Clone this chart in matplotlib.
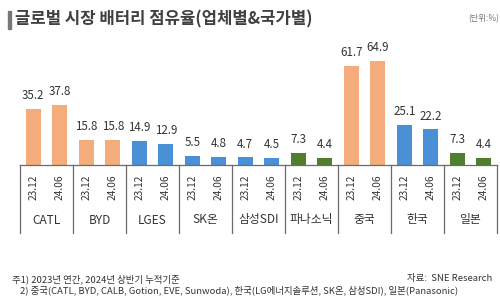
import matplotlib
matplotlib.use("Agg")
import matplotlib.pyplot as plt
from matplotlib.lines import Line2D
from matplotlib.patches import Rectangle
import matplotlib.transforms as mtransforms

plt.rcParams["font.family"] = ["Noto Sans CJK KR", "DejaVu Sans"]

# Data
groups = ["CATL", "BYD", "LGES", "SK온", "삼성SDI", "파나소닉", "중국", "한국", "일본"]
periods = ["23.12", "24.06"]
share_2312 = [35.2, 15.8, 14.9, 5.5, 4.7, 7.3, 61.7, 25.1, 7.3]
share_2406 = [37.8, 15.8, 12.9, 4.8, 4.5, 4.4, 64.9, 22.2, 4.4]
group_kind = ["cn", "cn", "kr", "kr", "kr", "jp", "cn", "kr", "jp"]

colors = {"cn": "#F4AC7C", "kr": "#4A90D6", "jp": "#4F7F2C"}

W, H = 500, 297
fig = plt.figure(figsize=(W / 100, H / 100), dpi=100)

# axes in pixel coordinates
x0, x1 = 20, 497
y_base, y_top = 165, 40
ax = fig.add_axes([x0 / W, 1 - y_base / H, (x1 - x0) / W, (y_base - y_top) / H])
ax.set_xlim(-0.5, 2 * len(groups) - 0.5)
ax.set_ylim(0, (y_base - y_top) / 1.6)
ax.axis("off")

xs, vals, cols, labels = [], [], [], []
for i, g in enumerate(groups):
    for j, v in enumerate([share_2312[i], share_2406[i]]):
        xs.append(2 * i + j)
        vals.append(v)
        cols.append(colors[group_kind[i]])
        labels.append(periods[j])

bars = ax.bar(xs, vals, width=0.57, color=cols, zorder=2)
for x, v in zip(xs, vals):
    ax.annotate(f"{v:.1f}", (x, v), xytext=(0, 5), textcoords="offset points",
                ha="center", va="bottom", fontsize=8.3, color="#333333")

# blended transform: data x, figure pixel y (from top)
trans = mtransforms.blended_transform_factory(ax.transData, fig.transFigure)

def fy(py):
    return 1 - py / H

line_col = "#6b6b6b"
fig.add_artist(Line2D([x0 / W, x1 / W], [fy(y_base), fy(y_base)],
                      transform=fig.transFigure, color=line_col, lw=0.9))
for k in range(len(groups) + 1):
    xb = 2 * k - 0.5
    fig.add_artist(Line2D([xb, xb], [fy(y_base), fy(233)], transform=trans,
                          color=line_col, lw=0.9))

for x, lab in zip(xs, labels):
    fig.text(x, fy(187), lab, transform=trans, rotation=90, ha="center",
             va="center", fontsize=7.3, color="#333333")
for i, g in enumerate(groups):
    fig.text(2 * i + 0.5, fy(220), g, transform=trans, ha="center",
             va="center", fontsize=8.5, color="#333333")

# title
fig.add_artist(Rectangle((8 / W, fy(29)), 3 / W, 18 / H, transform=fig.transFigure,
                         color="#777777"))
fig.text(15 / W, fy(19), "글로벌 시장 배터리 점유율(업체별&국가별)", ha="left",
         va="center", fontsize=12, fontweight="bold", color="#404040")
fig.text(499 / W, fy(19), "(단위:%)", ha="right", va="center", fontsize=6,
         color="#777777")

# footnotes
fig.text(12 / W, fy(279), "주1) 2023년 연간, 2024년 상반기 누적기준", ha="left",
         va="center", fontsize=6.8, color="#333333")
fig.text(20 / W, fy(290),
         "2) 중국(CATL, BYD, CALB, Gotion, EVE, Sunwoda), 한국(LG에너지솔루션, SK온, 삼성SDI), 일본(Panasonic)",
         ha="left", va="center", fontsize=6.8, color="#333333")
fig.text(492 / W, fy(279), "자료:  SNE Research", ha="right", va="center",
         fontsize=6.8, color="#333333")

fig.savefig("out.png", dpi=100)
